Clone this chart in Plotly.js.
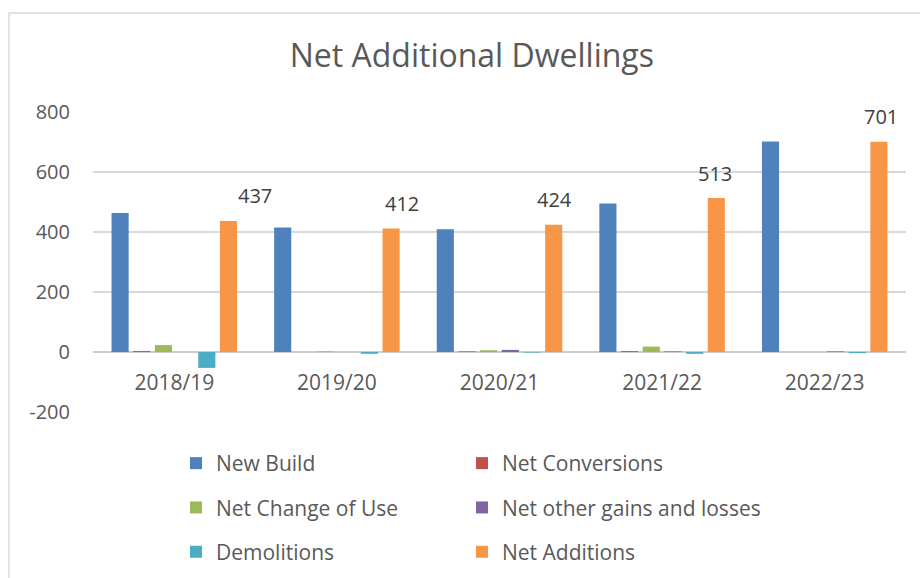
<!DOCTYPE html>
<html>
<head>
<meta charset="utf-8">
<script src="https://cdn.plot.ly/plotly-3.0.1.min.js"></script>
<style>html,body{margin:0;padding:0;background:#fff;}#chart{width:920px;height:578px;}</style>
</head>
<body>
<div id="chart"></div>
<script>
const categories = ["2018/19", "2019/20", "2020/21", "2021/22", "2022/23"];
const newBuild = [463, 415, 409, 495, 702];
const netConversions = [3, 0, 2, 3, 0];
const netChangeOfUse = [23, 2, 6, 18, 0];
const netOtherGains = [0, 0, 7, 2, 2];
const demolitions = [-53, -6, -2, -6, -4];
const netAdditions = [437, 412, 424, 513, 701];

const seriesNames = ["New Build", "Net Conversions", "Net Change of Use", "Net other gains and losses", "Demolitions", "Net Additions"];
const seriesValues = [newBuild, netConversions, netChangeOfUse, netOtherGains, demolitions, netAdditions];
const colors = ["#4F81BD", "#C0504D", "#9BBB59", "#8064A2", "#4BACC6", "#F79646"];
const legendIds = ["legend", "legend2", "legend", "legend2", "legend", "legend2"];

// label placement offsets (pixels, styling only)
const labelXShift = [81, 65, 55, 53, 56];

const FONT = "Open Sans, Noto Sans, sans-serif";
const traces = seriesNames.map((name, i) => ({
  type: "bar",
  name: name,
  x: categories,
  y: seriesValues[i],
  marker: {color: colors[i]},
  legend: legendIds[i],
  legendgroup: "g" + i,
  hoverinfo: "x+y+name"
}));

const annotations = categories.map((c, k) => ({
  x: c, y: netAdditions[k], xref: "x", yref: "y",
  text: String(netAdditions[k]),
  showarrow: false,
  xanchor: "center", yanchor: "middle",
  xshift: labelXShift[k], yshift: 25,
  font: {size: 20, color: "#404040", family: FONT}
}));

const legendCommon = {
  orientation: "v",
  font: {size: 21, color: "#595959", family: FONT},
  xanchor: "left", yanchor: "top",
  xref: "container", yref: "container",
  tracegroupgap: 14,
  itemwidth: 30,
  bgcolor: "rgba(0,0,0,0)"
};

const layout = {
  width: 920, height: 578,
  paper_bgcolor: "#ffffff",
  plot_bgcolor: "#ffffff",
  margin: {l: 93, r: 14, t: 112, b: 166, autoexpand: false},
  title: {
    text: "Net Additional Dwellings",
    font: {size: 32, color: "#595959", family: FONT},
    x: 0.466, xanchor: "center",
    y: 0.903, yanchor: "middle",
    xref: "paper", yref: "container"
  },
  barmode: "group",
  bargap: 0.2,
  bargroupgap: 0.21,
  showlegend: true,
  annotations: annotations,
  xaxis: {
    type: "category",
    anchor: "free",
    position: 0.2,
    showline: false,
    showgrid: false,
    ticks: "",
    tickangle: 0,
    automargin: false,
    tickfont: {size: 21, color: "#595959", family: FONT},
    ticklabelstandoff: 16,
    fixedrange: true
  },
  yaxis: {
    range: [-200, 800],
    tickvals: [-200, 0, 200, 400, 600, 800],
    ticktext: ["-200", "0", "200", "400", "600", "800"],
    showgrid: true,
    gridcolor: "#d9d9d9",
    gridwidth: 1.3,
    zeroline: true,
    zerolinecolor: "#cccccc",
    zerolinewidth: 1.6,
    showline: false,
    ticks: "",
    automargin: false,
    tickfont: {size: 20, color: "#595959", family: FONT},
    ticklabelstandoff: 22,
    fixedrange: true
  },
  legend: Object.assign({}, legendCommon, {x: 176 / 920, y: 1 - 443 / 578}),
  legend2: Object.assign({}, legendCommon, {x: 462 / 920, y: 1 - 443 / 578}),
  shapes: [{
    type: "rect", xref: "paper", yref: "paper",
    x0: -84 / 813, x1: 30, y0: -30, y1: 1 + 99 / 300,
    line: {color: "#d9d9d9", width: 1.5},
    fillcolor: "rgba(0,0,0,0)",
    layer: "below"
  }]
};

Plotly.newPlot("chart", traces, layout, {displayModeBar: false, staticPlot: true});
</script>
</body>
</html>
